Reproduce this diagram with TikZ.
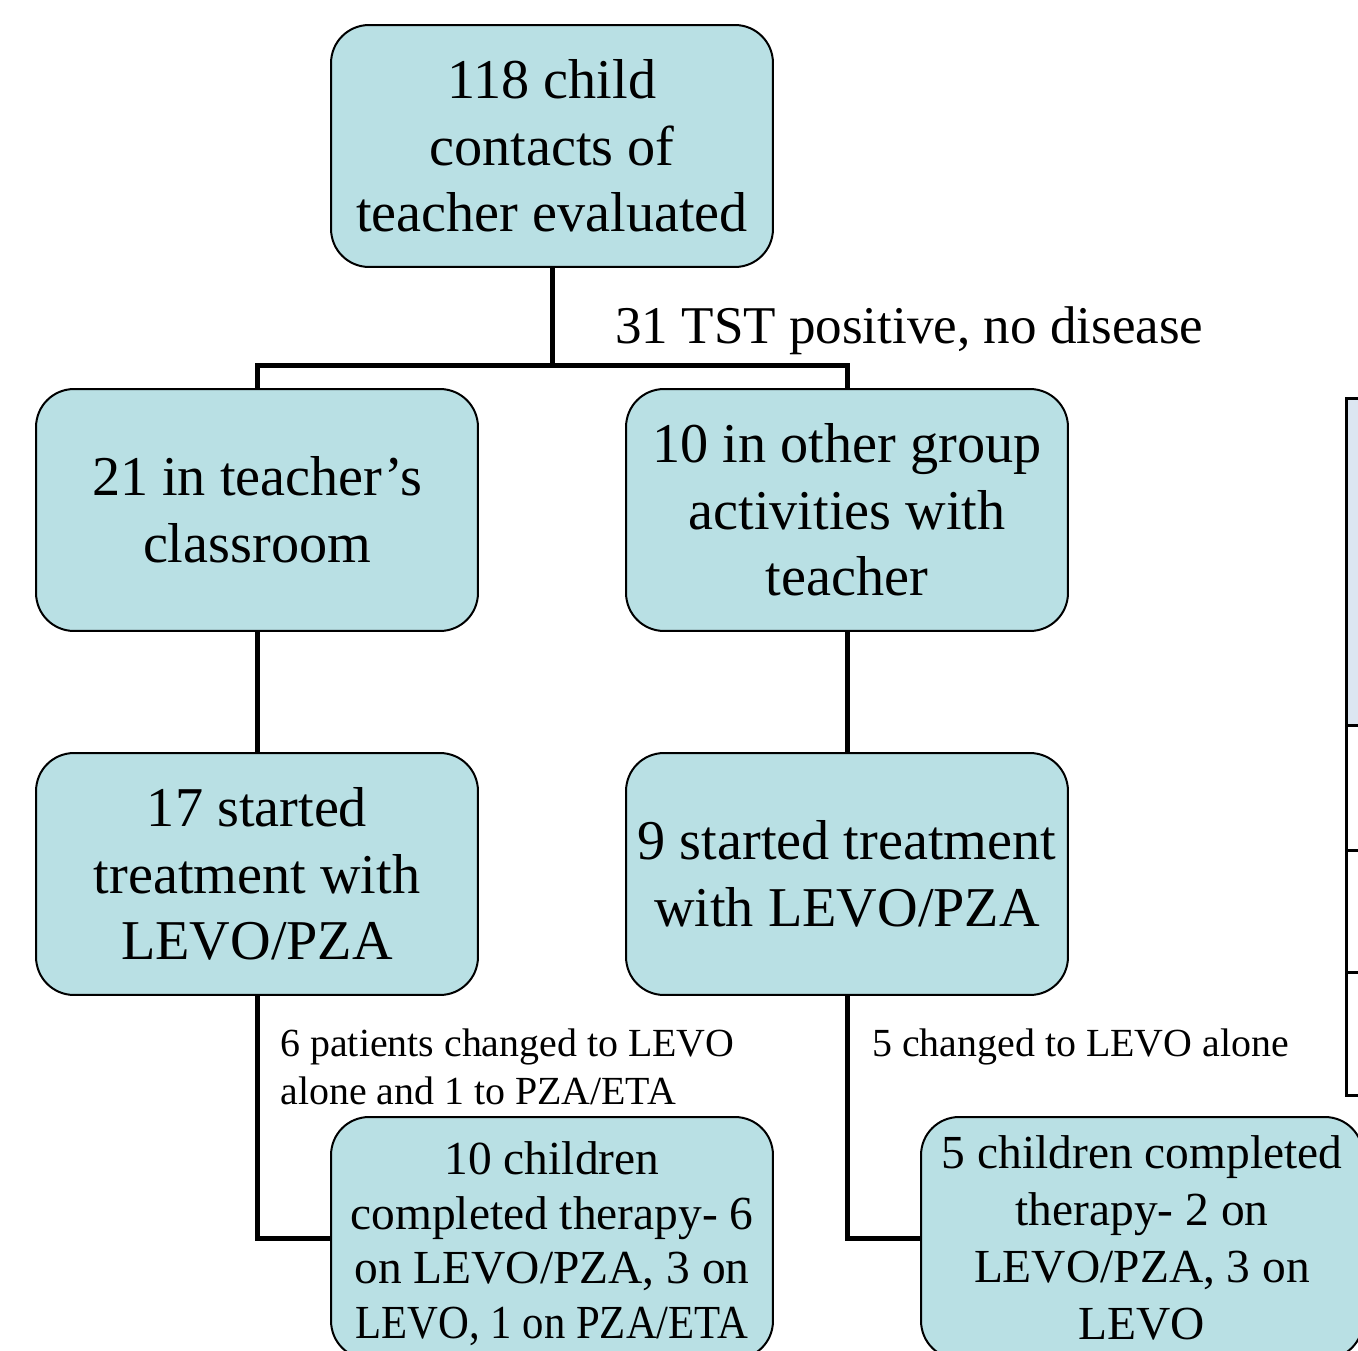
\documentclass[tikz,border=0pt]{standalone}
\usepackage{fontspec}
\setmainfont{Liberation Serif}
\usepackage{tikz}
\usetikzlibrary{positioning, calc}
\definecolor{corCaixa}{RGB}{185, 224, 228}
\definecolor{corTabela}{RGB}{220, 230, 241}

\begin{document}
\begin{tikzpicture}[
    x=0.02cm, y=-0.02cm,
    box/.style={
        draw, line width=0.04cm, fill=corCaixa, rounded corners=0.76cm,
        minimum width=8.84cm, minimum height=4.84cm, inner sep=0pt,
        align=center, font=\fontsize{32}{38}\selectfont
    },
    boxsm/.style={box, font=\fontsize{27}{31}\selectfont},
    lbl/.style={inner sep=0pt, align=left, font=\fontsize{22.7}{27}\selectfont},
    link/.style={line width=0.1cm}
]
\useasboundingbox (0,0) rectangle (1358,1351);
\clip (0,0) rectangle (1358,1351);

% partial table at the right edge
\fill[corTabela] (1346,398) rectangle (1400,725);
\draw[line width=0.06cm] (1400,398) -- (1346,398) -- (1346,1095) -- (1400,1095);
\draw[line width=0.06cm] (1346,725) -- (1400,725);
\draw[line width=0.06cm] (1346,850) -- (1400,850);
\draw[line width=0.06cm] (1346,972) -- (1400,972);

\node[box] (top) at (552,146) {118 child\\contacts of\\teacher evaluated};

\node[box] (classroom) at (257,510) {21 in teacher’s\\classroom};
\node[box] (activities) at (847,510) {10 in other group\\activities with\\teacher};

\node[box] (startL) at (257,874) {17 started\\treatment with\\LEVO/PZA};
\node[box] (startR) at (847,874) {9 started treatment\\with LEVO/PZA};

\node[boxsm] (doneL) at (552,1238)
    {\rule{0pt}{25pt}10 children\\completed therapy- 6\\on LEVO/PZA, 3 on\\\scalebox{0.9}[1]{LEVO, 1 on PZA/ETA}};
\node[boxsm, font=\fontsize{27}{32.5}\selectfont] (doneR) at (1142,1238)
    {5 children completed\\therapy- 2 on\\LEVO/PZA, 3 on\\LEVO};

\coordinate (split) at ($(top.south)+(0,98)$);

\draw[link] (top.south) -- (split);
\draw[link] (classroom.north) |- (split) -| (activities.north);
\draw[link] (classroom.south) -- (startL.north);
\draw[link] (activities.south) -- (startR.north);
\draw[link] (startL.south) |- (doneL.west);
\draw[link] (startR.south) |- (doneR.west);

\node[lbl, anchor=base west, font=\fontsize{30.2}{36}\selectfont] (tst) at (615,343) {31 TST positive, no disease};
\node[lbl, anchor=base west] (changeL) at (280,1104) {6 patients changed to LEVO\\alone and 1 to PZA/ETA};
\node[lbl, anchor=base west] (changeR) at (872,1056) {5 changed to LEVO alone};

\end{tikzpicture}
\end{document}
